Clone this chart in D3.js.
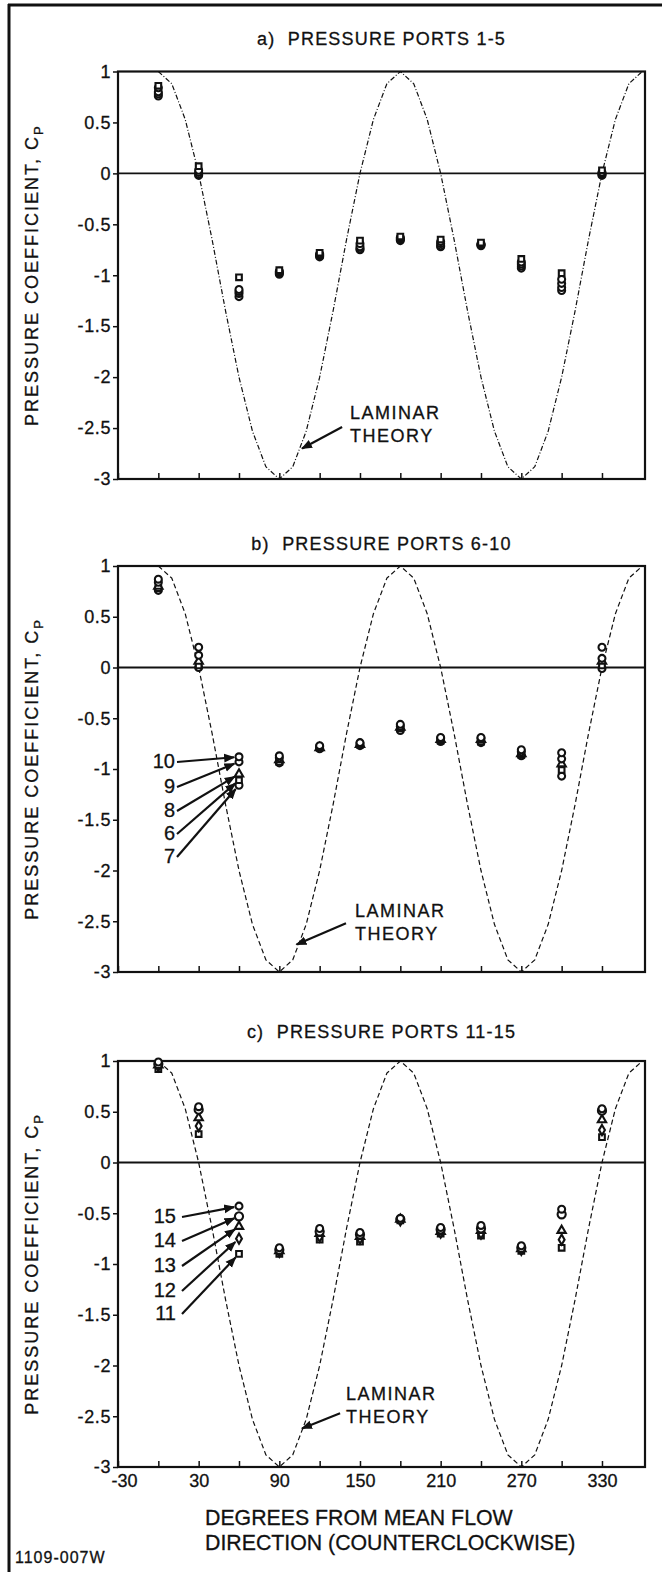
<!DOCTYPE html>
<html><head><meta charset="utf-8">
<script src="https://cdn.jsdelivr.net/npm/d3@7"></script>
<style>
body{margin:0;background:#fff}
svg{display:block}
text{font-family:"Liberation Sans",Arial,Helvetica,sans-serif;fill:#111}
</style>
</head><body>
<svg id="chart" width="662" height="1572"></svg>
<script>
// ---------------- DATA ----------------
const angles = [0, 30, 60, 90, 120, 150, 180, 210, 240, 270, 300, 330];

// Laminar theory curve, read at 10 degree steps
const theoryAngles = [0,10,20,30,40,50,60,70,80,90,100,110,120,130,140,150,160,170,180,
  190,200,210,220,230,240,250,260,270,280,290,300,310,320,330,340,350,360];
const theoryCp = [1,0.88,0.53,0,-0.65,-1.35,-2,-2.53,-2.88,-3,-2.88,-2.53,-2,-1.35,-0.65,0,0.53,0.88,1,
  0.88,0.53,0,-0.65,-1.35,-2,-2.53,-2.88,-3,-2.88,-2.53,-2,-1.35,-0.65,0,0.53,0.88,1];

const yTickValues = [1, 0.5, 0, -0.5, -1, -1.5, -2, -2.5, -3];
const xTickValues = [-30, 0, 30, 60, 90, 120, 150, 180, 210, 240, 270, 300, 330];
const xTickLabels = [-30, 30, 90, 150, 210, 270, 330];

const panelTitles = ["a)  PRESSURE PORTS 1-5", "b)  PRESSURE PORTS 6-10", "c)  PRESSURE PORTS 11-15"];

// Panel a: ports 1-5
const portsA = ["1", "2", "3", "4", "5"];
const symbolsA = ["square", "circle", "circle", "circle", "circle"];
const a1 = [0.86, 0.07, -1.02, -0.95, -0.78, -0.66, -0.62, -0.65, -0.68, -0.84, -0.98, 0.03];
const a2 = [0.84, 0.03, -1.14, -0.96, -0.79, -0.69, -0.63, -0.67, -0.69, -0.87, -1.04, 0.01];
const a3 = [0.80, 0.01, -1.16, -0.97, -0.80, -0.72, -0.64, -0.69, -0.70, -0.89, -1.08, 0.00];
const a4 = [0.78, -0.01, -1.18, -0.98, -0.81, -0.74, -0.65, -0.71, -0.70, -0.91, -1.12, -0.01];
const a5 = [0.76, -0.02, -1.21, -0.99, -0.82, -0.75, -0.66, -0.72, -0.71, -0.93, -1.15, -0.02];

// Panel b: ports 6-10 (listed top to bottom at 60 deg)
const portsB = ["10", "9", "8", "6", "7"];
const symbolsB = ["circle", "circle", "triangle", "square", "circle"];
const b10 = [0.87, 0.20, -0.88, -0.87, -0.77, -0.74, -0.56, -0.69, -0.69, -0.81, -0.84, 0.20];
const b9  = [0.84, 0.12, -0.93, -0.89, -0.78, -0.75, -0.58, -0.70, -0.70, -0.83, -0.90, 0.09];
const b8  = [0.80, 0.06, -1.05, -0.91, -0.79, -0.76, -0.59, -0.71, -0.71, -0.85, -0.95, 0.06];
const b6  = [0.78, 0.02, -1.11, -0.93, -0.79, -0.76, -0.60, -0.72, -0.73, -0.86, -1.01, 0.02];
const b7  = [0.76, 0.00, -1.16, -0.94, -0.80, -0.77, -0.62, -0.73, -0.74, -0.87, -1.07, -0.01];

// Panel c: ports 11-15 (listed top to bottom at 60 deg)
const portsC = ["15", "14", "13", "12", "11"];
const symbolsC = ["circle", "bigcircle", "triangle", "diamond", "square"];
const c15 = [0.99, 0.55, -0.43, -0.84, -0.65, -0.69, -0.55, -0.64, -0.62, -0.82, -0.46, 0.53];
const c14 = [0.97, 0.52, -0.53, -0.86, -0.68, -0.71, -0.56, -0.66, -0.65, -0.84, -0.51, 0.51];
const c13 = [0.96, 0.44, -0.63, -0.87, -0.70, -0.73, -0.56, -0.68, -0.67, -0.85, -0.67, 0.42];
const c12 = [0.95, 0.36, -0.75, -0.88, -0.73, -0.75, -0.57, -0.69, -0.70, -0.86, -0.76, 0.32];
const c11 = [0.92, 0.28, -0.90, -0.90, -0.76, -0.78, -0.57, -0.70, -0.72, -0.87, -0.84, 0.25];

// ---------------- LAYOUT ----------------
const W = 662, H = 1572;
const plotLeft = 118, plotRight = 645;
const panels = [
  { top: 71.5, bottom: 479, titleY: 45, ports: portsA, symbols: symbolsA, series: [a1, a2, a3, a4, a5],
    labelPorts: false, laminar: { text: [142.6, -2.41], from: [136.7, -2.49], to: [106.9, -2.70] } },
  { top: 566, bottom: 972, titleY: 550, ports: portsB, symbols: symbolsB, series: [b10, b9, b8, b6, b7],
    labelPorts: true, labelX: 175, arrowX: 177, labelBase: [768, 793, 817, 840, 863],
    laminar: { text: [146.3, -2.46], from: [139.6, -2.52], to: [102.8, -2.73] } },
  { top: 1061, bottom: 1467, titleY: 1038, ports: portsC, symbols: symbolsC, series: [c15, c14, c13, c12, c11],
    labelPorts: true, labelX: 176, arrowX: 182, labelBase: [1223, 1247, 1272, 1297, 1320],
    laminar: { text: [139.6, -2.34], from: [135.2, -2.47], to: [106.9, -2.62] } }
];

const svg = d3.select("#chart");
const defs = svg.append("defs");
defs.append("marker").attr("id", "ah").attr("viewBox", "0 0 10 10")
  .attr("refX", 9).attr("refY", 5).attr("markerWidth", 5).attr("markerHeight", 5)
  .attr("orient", "auto").attr("markerUnits", "strokeWidth")
  .append("path").attr("d", "M0,1 L10,5 L0,9 Z").attr("fill", "#111");

// outer frame (top and left edges)
svg.append("line").attr("x1", 8).attr("x2", W).attr("y1", 5).attr("y2", 5).attr("stroke", "#111").attr("stroke-width", 3);
svg.append("line").attr("x1", 9).attr("x2", 9).attr("y1", 4).attr("y2", H).attr("stroke", "#111").attr("stroke-width", 3);

const x = d3.scaleLinear().domain([-30, 362]).range([plotLeft, plotRight]);

const symbolGen = {
  circle: d3.symbol().type(d3.symbolCircle).size(38),
  bigcircle: d3.symbol().type(d3.symbolCircle).size(52),
  square: d3.symbol().type(d3.symbolSquare).size(32),
  triangle: d3.symbol().type(d3.symbolTriangle).size(30),
  diamond: d3.symbol().type(d3.symbolDiamond).size(30)
};

panels.forEach((p, pi) => {
  const y = d3.scaleLinear().domain([-3, 1]).range([p.bottom, p.top]);
  const g = svg.append("g");

  // title
  g.append("text").attr("x", (plotLeft + plotRight) / 2).attr("y", p.titleY)
    .attr("text-anchor", "middle").attr("font-size", 18).attr("letter-spacing", 1.2)
    .attr("stroke", "#111").attr("stroke-width", 0.3)
    .attr("xml:space", "preserve").style("white-space", "pre").text(panelTitles[pi]);

  // y axis
  const ya = g.append("g").attr("transform", `translate(${plotLeft},0)`)
    .call(d3.axisLeft(y).tickValues(yTickValues).tickSize(5).tickPadding(2).tickFormat(d => String(d)));
  ya.select(".domain").remove();
  ya.selectAll("line").attr("stroke", "#111").attr("stroke-width", 1.5);
  ya.selectAll("text").attr("font-size", 18).attr("letter-spacing", 0.6).attr("fill", "#111")
    .attr("stroke", "#111").attr("stroke-width", 0.3)
    .attr("font-family", '"Liberation Sans", Arial, sans-serif');

  // x axis (ticks inward)
  const xa = g.append("g").attr("transform", `translate(0,${p.bottom})`)
    .call(d3.axisBottom(x).tickValues(xTickValues).tickSize(-6).tickPadding(7)
      .tickFormat(d => (pi === 2 && xTickLabels.includes(d)) ? String(d) : ""));
  xa.select(".domain").remove();
  xa.selectAll("line").attr("stroke", "#111").attr("stroke-width", 1.5);
  xa.selectAll("text").attr("font-size", 18).attr("fill", "#111")
    .attr("stroke", "#111").attr("stroke-width", 0.3)
    .attr("font-family", '"Liberation Sans", Arial, sans-serif')
    .attr("dx", d => d < 0 ? 6 : 0);

  // frame
  g.append("rect").attr("x", plotLeft).attr("y", p.top).attr("width", plotRight - plotLeft)
    .attr("height", p.bottom - p.top).attr("fill", "none").attr("stroke", "#111").attr("stroke-width", 2.2);

  // zero line
  g.append("line").attr("x1", plotLeft).attr("x2", plotRight).attr("y1", y(0)).attr("y2", y(0))
    .attr("stroke", "#111").attr("stroke-width", 1.8);

  // laminar theory curve
  const line = d3.line().x(d => x(d[0])).y(d => y(d[1]));
  g.append("path").datum(theoryAngles.map((a, i) => [a, theoryCp[i]]))
    .attr("d", line).attr("fill", "none").attr("stroke", "#111").attr("stroke-width", 1.2)
    .attr("stroke-dasharray", pi === 0 ? "5,2,1,2" : "5,3");

  // data points (draw bottom series first)
  for (let si = p.series.length - 1; si >= 0; si--) {
    const vals = p.series[si];
    const sym = symbolGen[p.symbols[si]];
    g.append("g").selectAll("path").data(angles.map((a, i) => [a, vals[i]])).join("path")
      .attr("d", sym).attr("transform", d => `translate(${x(d[0])},${y(d[1])})`)
      .attr("fill", "#fff").attr("stroke", "#111").attr("stroke-width", 2.1);
  }

  // port labels with arrows
  if (p.labelPorts) {
    const i60 = angles.indexOf(60);
    p.ports.forEach((port, k) => {
      const base = p.labelBase[k];
      g.append("text").attr("x", p.labelX).attr("y", base).attr("text-anchor", "end")
        .attr("font-size", 20).attr("stroke", "#111").attr("stroke-width", 0.3).text(port);
      const sx = p.arrowX, sy = base - 6;
      const tx = x(60), ty = y(p.series[k][i60]);
      const dx = tx - sx, dy = ty - sy, len = Math.hypot(dx, dy);
      const ex = tx - dx / len * 5, ey = ty - dy / len * 5;
      g.append("line").attr("x1", sx).attr("y1", sy).attr("x2", ex).attr("y2", ey)
        .attr("stroke", "#111").attr("stroke-width", 2.2).attr("marker-end", "url(#ah)");
    });
  }

  // LAMINAR THEORY annotation
  const L = p.laminar;
  const tx0 = x(L.text[0]), ty0 = y(L.text[1]);
  g.append("text").attr("x", tx0).attr("y", ty0).attr("font-size", 18).attr("letter-spacing", 1.5)
    .attr("stroke", "#111").attr("stroke-width", 0.3).text("LAMINAR");
  g.append("text").attr("x", tx0).attr("y", ty0 + 23).attr("font-size", 18).attr("letter-spacing", 1.5)
    .attr("stroke", "#111").attr("stroke-width", 0.3).text("THEORY");
  g.append("line").attr("x1", x(L.from[0])).attr("y1", y(L.from[1])).attr("x2", x(L.to[0])).attr("y2", y(L.to[1]))
    .attr("stroke", "#111").attr("stroke-width", 2.2).attr("marker-end", "url(#ah)");

  // y axis title
  const cy = (p.top + p.bottom) / 2;
  const yt = g.append("text").attr("transform", `translate(38,${cy}) rotate(-90)`)
    .attr("text-anchor", "middle").attr("font-size", 18).attr("letter-spacing", 2)
    .attr("stroke", "#111").attr("stroke-width", 0.3);
  yt.append("tspan").text("PRESSURE COEFFICIENT, C");
  yt.append("tspan").attr("font-size", 13).attr("dy", 5).text("P");
});

// x axis title
svg.append("text").attr("x", 205).attr("y", 1525).attr("font-size", 21.3)
  .attr("stroke", "#111").attr("stroke-width", 0.3).text("DEGREES FROM MEAN FLOW");
svg.append("text").attr("x", 205).attr("y", 1550).attr("font-size", 21.3)
  .attr("stroke", "#111").attr("stroke-width", 0.3).text("DIRECTION (COUNTERCLOCKWISE)");

// figure id
svg.append("text").attr("x", 15).attr("y", 1563).attr("font-size", 16).attr("letter-spacing", 1)
  .attr("font-family", '"DejaVu Sans", sans-serif').attr("stroke", "#111").attr("stroke-width", 0.3)
  .text("1109-007W");
</script>
</body></html>
